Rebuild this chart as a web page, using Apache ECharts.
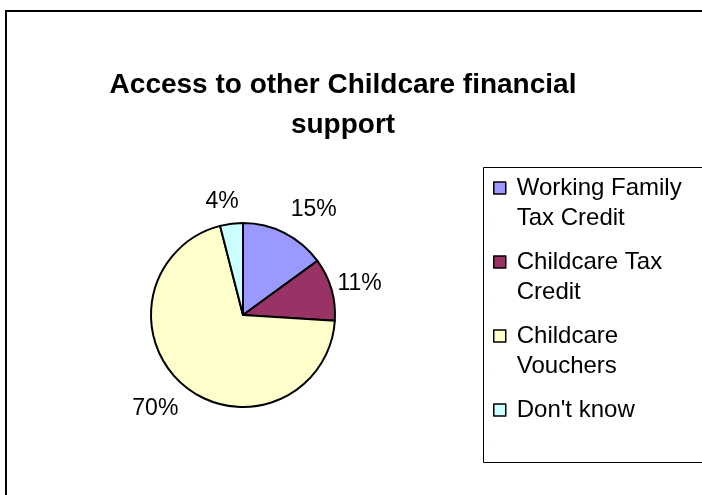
<!DOCTYPE html>
<html>
<head>
<meta charset="utf-8">
<script src="https://cdn.jsdelivr.net/npm/echarts@6/dist/echarts.min.js"></script>
<style>html,body{margin:0;padding:0;background:#fff;}#chart{width:702px;height:495px;}</style>
</head>
<body>
<div id="chart"></div>
<script>
// Data
const categories = ['Working Family Tax Credit', 'Childcare Tax Credit', 'Childcare Vouchers', "Don't know"];
const legendLabels = ['Working Family\nTax Credit', 'Childcare Tax\nCredit', 'Childcare\nVouchers', "Don't know\n "];
const values = [15, 11, 70, 4];
const colors = ['#9999FF', '#993366', '#FFFFCC', '#CCFFFF'];
const titleText = 'Access to other Childcare financial\nsupport';

// label placement tweaks (style only), per slice: [dx, dy]
const labelNudge = [[-4, -4], [-15, 0], [8, 6], [10, 0]];

const chart = echarts.init(document.getElementById('chart'), null, {renderer: 'canvas'});
const FONT = '"Liberation Sans", Arial, sans-serif';
const iconPath = 'path://M0,0H12V12H0Z M0,42L0.01,42';

const option = {
  animation: false,
  backgroundColor: '#ffffff',
  title: {
    text: titleText,
    left: 338,
    top: 60,
    textAlign: 'center',
    textStyle: {fontFamily: FONT, fontSize: 28, fontWeight: 'bold', color: '#000', lineHeight: 40}
  },
  graphic: [
    {type: 'rect', shape: {x: 6, y: 11, width: 760, height: 560}, style: {fill: 'none', stroke: '#000', lineWidth: 2}, silent: true},
    {type: 'rect', shape: {x: 483.5, y: 167.5, width: 300, height: 295}, style: {fill: 'none', stroke: '#000', lineWidth: 1}, silent: true}
  ],
  legend: {
    orient: 'vertical',
    left: 493,
    top: 173,
    padding: 0,
    itemWidth: 12,
    itemHeight: 42,
    itemGap: 14,
    icon: iconPath,
    itemStyle: {borderColor: '#000', borderWidth: 1.5},
    data: categories,
    formatter: function (name) { return legendLabels[categories.indexOf(name)]; },
    textStyle: {fontFamily: FONT, fontSize: 24, color: '#000', lineHeight: 30, padding: [0, 0, 0, 6]}
  },
  series: [{
    type: 'pie',
    center: [243, 315],
    radius: 92,
    startAngle: 90,
    clockwise: true,
    avoidLabelOverlap: false,
    itemStyle: {borderColor: '#000', borderWidth: 2},
    label: {
      show: true,
      position: 'outside',
      formatter: '{c}%',
      fontFamily: FONT,
      fontSize: 23,
      color: '#000',
      distanceToLabelLine: 0
    },
    labelLine: {show: false, length: 22, length2: 0},
    labelLayout: function (params) {
      const n = labelNudge[params.dataIndex] || [0, 0];
      return {dx: n[0], dy: n[1]};
    },
    emphasis: {disabled: true},
    data: categories.map(function (c, i) {
      return {name: c, value: values[i], itemStyle: {color: colors[i]}};
    })
  }]
};
chart.setOption(option);
</script>
</body>
</html>
